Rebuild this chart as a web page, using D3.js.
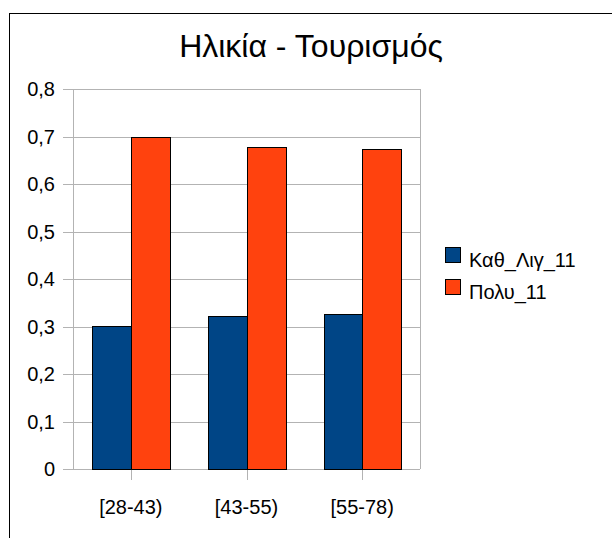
<!DOCTYPE html>
<html>
<head>
<meta charset="utf-8">
<script src="https://cdn.jsdelivr.net/npm/d3@7"></script>
<style>
body { margin: 0; background: #fff; }
text { font-family: "Liberation Sans", Arial, sans-serif; fill: #000; }
</style>
</head>
<body>
<div id="chart"></div>
<script>
// data
var categories = ['[28-43)', '[43-55)', '[55-78)'];
var series = ['Καθ_Λιγ_11', 'Πολυ_11'];
var kathLig = [0.302, 0.3215, 0.327];
var poly = [0.698, 0.6785, 0.673];
var yTicks = [0, 0.1, 0.2, 0.3, 0.4, 0.5, 0.6, 0.7, 0.8];
var colors = ['#004586', '#ff420e'];

var width = 612, height = 538;
var plot = {left: 73, right: 420, top: 89, bottom: 469};

var svg = d3.select('#chart').append('svg')
    .attr('width', width)
    .attr('height', height);

// outer frame (runs off the right and bottom edge)
svg.append('rect')
    .attr('x', 9.5).attr('y', 13.5)
    .attr('width', 700).attr('height', 700)
    .attr('fill', 'none')
    .attr('stroke', '#000')
    .attr('stroke-width', 1);

svg.append('text')
    .attr('x', 311)
    .attr('y', 57)
    .attr('text-anchor', 'middle')
    .style('font-size', '32px')
    .text('Ηλικία - Τουρισμός');

var x = d3.scaleBand().domain(categories).range([plot.left, plot.right]);
var xs = d3.scaleBand().domain(series).range([0, x.bandwidth()]).paddingInner(0).paddingOuter(0.5);
var y = d3.scaleLinear().domain([0, 0.8]).range([plot.bottom, plot.top]);

// gridlines
svg.append('g')
    .selectAll('line')
    .data(yTicks)
    .enter()
    .append('line')
    .attr('x1', plot.left - 10)
    .attr('x2', plot.right)
    .attr('y1', function(d) { return Math.round(y(d)) + 0.5; })
    .attr('y2', function(d) { return Math.round(y(d)) + 0.5; })
    .attr('stroke', '#b3b3b3')
    .attr('stroke-width', 1);

// y axis line and right border
svg.append('line')
    .attr('x1', plot.left + 0.5).attr('x2', plot.left + 0.5)
    .attr('y1', plot.top).attr('y2', plot.bottom)
    .attr('stroke', '#b3b3b3');
svg.append('line')
    .attr('x1', plot.right + 0.5).attr('x2', plot.right + 0.5)
    .attr('y1', plot.top).attr('y2', plot.bottom)
    .attr('stroke', '#b3b3b3');

// y labels
svg.append('g')
    .selectAll('text')
    .data(yTicks)
    .enter()
    .append('text')
    .attr('x', 55)
    .attr('y', function(d) { return y(d) + 7; })
    .attr('text-anchor', 'end')
    .style('font-size', '20px')
    .text(function(d) { return d3.format('.1f')(d).replace('.', ',').replace(/^0,0$/, '0'); });

// x category ticks
svg.append('g')
    .selectAll('line')
    .data(categories)
    .enter()
    .append('line')
    .attr('x1', function(d) { return Math.round(x(d) + x.bandwidth() / 2) + 0.5; })
    .attr('x2', function(d) { return Math.round(x(d) + x.bandwidth() / 2) + 0.5; })
    .attr('y1', plot.bottom)
    .attr('y2', plot.bottom + 11)
    .attr('stroke', '#b3b3b3');

svg.append('g')
    .selectAll('text')
    .data(categories)
    .enter()
    .append('text')
    .attr('x', function(d) { return x(d) + x.bandwidth() / 2; })
    .attr('y', 514)
    .attr('text-anchor', 'middle')
    .style('font-size', '20px')
    .text(function(d) { return d; });

// bars
var values = [kathLig, poly];
series.forEach(function(s, si) {
    svg.append('g')
        .selectAll('rect')
        .data(values[si])
        .enter()
        .append('rect')
        .attr('x', function(d, i) { return Math.round(x(categories[i]) + xs(s)) + 0.5; })
        .attr('y', function(d) { return Math.round(y(d)) + 0.5; })
        .attr('width', Math.round(xs.bandwidth()))
        .attr('height', function(d) { return Math.round(y(0)) - Math.round(y(d)); })
        .attr('fill', colors[si])
        .attr('stroke', '#000')
        .attr('stroke-width', 1);
});

// legend
var legend = svg.append('g')
    .selectAll('g')
    .data(series)
    .enter()
    .append('g')
    .attr('transform', function(d, i) { return 'translate(445,' + (247 + i * 32) + ')'; });
legend.append('rect')
    .attr('x', 0.5).attr('y', 0.5)
    .attr('width', 15).attr('height', 15)
    .attr('fill', function(d, i) { return colors[i]; })
    .attr('stroke', '#000');
legend.append('text')
    .attr('x', 24)
    .attr('y', 20)
    .style('font-size', '20px')
    .text(function(d) { return d; });
</script>
</body>
</html>
